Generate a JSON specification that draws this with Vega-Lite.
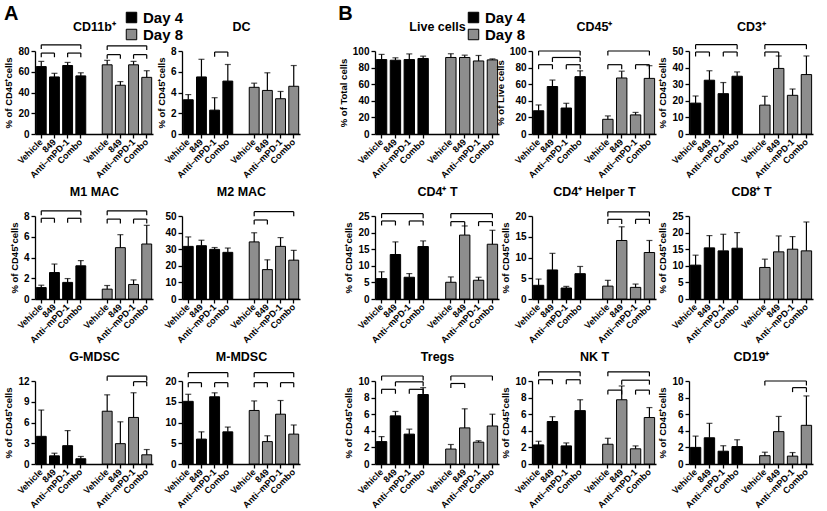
{
"$schema":"https://vega.github.io/schema/vega-lite/v6.json",
"padding":{"left":3,"top":4,"right":3,"bottom":0},
"data":{"values":[
{"p":"CD11b","d":"Day 4","k":"4|Vehicle","v":65,"hi":70},{"p":"CD11b","d":"Day 4","k":"4|849","v":55,"hi":58.5},{"p":"CD11b","d":"Day 4","k":"4|Anti–mPD-1","v":66,"hi":69},{"p":"CD11b","d":"Day 4","k":"4|Combo","v":56,"hi":59},
{"p":"CD11b","d":"Day 8","k":"8|Vehicle","v":66.7,"hi":71},{"p":"CD11b","d":"Day 8","k":"8|849","v":47,"hi":50.5},{"p":"CD11b","d":"Day 8","k":"8|Anti–mPD-1","v":66.7,"hi":70},{"p":"CD11b","d":"Day 8","k":"8|Combo","v":54.6,"hi":61},
{"p":"DC","d":"Day 4","k":"4|Vehicle","v":3.3,"hi":3.8},{"p":"DC","d":"Day 4","k":"4|849","v":5.5,"hi":7.2},{"p":"DC","d":"Day 4","k":"4|Anti–mPD-1","v":2.3,"hi":3.5},{"p":"DC","d":"Day 4","k":"4|Combo","v":5.1,"hi":6.7},
{"p":"DC","d":"Day 8","k":"8|Vehicle","v":4.5,"hi":4.9},{"p":"DC","d":"Day 8","k":"8|849","v":4.2,"hi":5.9},{"p":"DC","d":"Day 8","k":"8|Anti–mPD-1","v":3.4,"hi":4.1},{"p":"DC","d":"Day 8","k":"8|Combo","v":4.6,"hi":6.6},
{"p":"M1","d":"Day 4","k":"4|Vehicle","v":1.1,"hi":1.33},{"p":"M1","d":"Day 4","k":"4|849","v":2.55,"hi":3.37},{"p":"M1","d":"Day 4","k":"4|Anti–mPD-1","v":1.6,"hi":1.97},{"p":"M1","d":"Day 4","k":"4|Combo","v":3.2,"hi":3.7},
{"p":"M1","d":"Day 8","k":"8|Vehicle","v":0.95,"hi":1.3},{"p":"M1","d":"Day 8","k":"8|849","v":4.95,"hi":6.2},{"p":"M1","d":"Day 8","k":"8|Anti–mPD-1","v":1.4,"hi":1.84},{"p":"M1","d":"Day 8","k":"8|Combo","v":5.3,"hi":7.1},
{"p":"M2","d":"Day 4","k":"4|Vehicle","v":31.7,"hi":37.4},{"p":"M2","d":"Day 4","k":"4|849","v":32.1,"hi":35.4},{"p":"M2","d":"Day 4","k":"4|Anti–mPD-1","v":29.9,"hi":31},{"p":"M2","d":"Day 4","k":"4|combo","v":28.1,"hi":30.7},
{"p":"M2","d":"Day 8","k":"8|Vehicle","v":34.4,"hi":39.9},{"p":"M2","d":"Day 8","k":"8|849","v":17.7,"hi":23.6},{"p":"M2","d":"Day 8","k":"8|Anti–mPD-1","v":31.7,"hi":37},{"p":"M2","d":"Day 8","k":"8|Combo","v":23.4,"hi":29.3},
{"p":"GM","d":"Day 4","k":"4|Vehicle","v":4.0,"hi":7.8},{"p":"GM","d":"Day 4","k":"4|849","v":1.18,"hi":1.56},{"p":"GM","d":"Day 4","k":"4|Anti–mPD-1","v":2.65,"hi":4.83},{"p":"GM","d":"Day 4","k":"4|Combo","v":0.76,"hi":1.09},
{"p":"GM","d":"Day 8","k":"8|Vehicle","v":7.63,"hi":10},{"p":"GM","d":"Day 8","k":"8|849","v":2.94,"hi":6.1},{"p":"GM","d":"Day 8","k":"8|Anti–mPD-1","v":6.73,"hi":10.3},{"p":"GM","d":"Day 8","k":"8|Combo","v":1.33,"hi":2.09},
{"p":"MM","d":"Day 4","k":"4|Vehicle","v":15.1,"hi":16.8},{"p":"MM","d":"Day 4","k":"4|849","v":6.0,"hi":7.75},{"p":"MM","d":"Day 4","k":"4|Anti–mPD-1","v":16.2,"hi":17.15},{"p":"MM","d":"Day 4","k":"4|Combo","v":7.75,"hi":8.9},
{"p":"MM","d":"Day 8","k":"8|Vehicle","v":12.9,"hi":15.2},{"p":"MM","d":"Day 8","k":"8|849","v":5.4,"hi":6.8},{"p":"MM","d":"Day 8","k":"8|Anti–mPD-1","v":12.0,"hi":15.3},{"p":"MM","d":"Day 8","k":"8|Combo","v":7.2,"hi":9.4},
{"p":"Live","d":"Day 4","k":"4|Vehicle","v":89.7,"hi":95.9},{"p":"Live","d":"Day 4","k":"4|849","v":88.9,"hi":91.8},{"p":"Live","d":"Day 4","k":"4|Anti–mPD-1","v":89.7,"hi":96.5},{"p":"Live","d":"Day 4","k":"4|Combo","v":91,"hi":93.8},
{"p":"Live","d":"Day 8","k":"8|Vehicle","v":92.2,"hi":96.7},{"p":"Live","d":"Day 8","k":"8|849","v":92.2,"hi":95},{"p":"Live","d":"Day 8","k":"8|Anti–mPD-1","v":88,"hi":94.6},{"p":"Live","d":"Day 8","k":"8|Combo","v":89.3,"hi":90.5},
{"p":"CD45","d":"Day 4","k":"4|Vehicle","v":28,"hi":35},{"p":"CD45","d":"Day 4","k":"4|849","v":57.2,"hi":65},{"p":"CD45","d":"Day 4","k":"4|Anti–mPD-1","v":31.3,"hi":37},{"p":"CD45","d":"Day 4","k":"4|Combo","v":69.1,"hi":76.1},
{"p":"CD45","d":"Day 8","k":"8|Vehicle","v":17.7,"hi":21.8},{"p":"CD45","d":"Day 8","k":"8|849","v":67.5,"hi":75.7},{"p":"CD45","d":"Day 8","k":"8|Anti–mPD-1","v":23,"hi":26},{"p":"CD45","d":"Day 8","k":"8|Combo","v":67,"hi":82.3},
{"p":"CD3","d":"Day 4","k":"4|Vehicle","v":18.6,"hi":22.9},{"p":"CD3","d":"Day 4","k":"4|849","v":32.4,"hi":38.1},{"p":"CD3","d":"Day 4","k":"4|Anti–mPD-1","v":24.3,"hi":31},{"p":"CD3","d":"Day 4","k":"4|Combo","v":34.8,"hi":37.4},
{"p":"CD3","d":"Day 8","k":"8|Vehicle","v":17.4,"hi":22.7},{"p":"CD3","d":"Day 8","k":"8|849","v":39.5,"hi":47},{"p":"CD3","d":"Day 8","k":"8|Anti–mPD-1","v":23.3,"hi":27.1},{"p":"CD3","d":"Day 8","k":"8|Combo","v":35.8,"hi":47},
{"p":"CD4","d":"Day 4","k":"4|Vehicle","v":6.15,"hi":8.2},{"p":"CD4","d":"Day 4","k":"4|849","v":13.4,"hi":17.2},{"p":"CD4","d":"Day 4","k":"4|Anti–mPD-1","v":6.55,"hi":7.66},{"p":"CD4","d":"Day 4","k":"4|Combo","v":15.8,"hi":17.5},
{"p":"CD4","d":"Day 8","k":"8|Vehicle","v":5.04,"hi":6.65},{"p":"CD4","d":"Day 8","k":"8|849","v":19.25,"hi":22},{"p":"CD4","d":"Day 8","k":"8|Anti–mPD-1","v":5.65,"hi":6.55},{"p":"CD4","d":"Day 8","k":"8|Combo","v":16.5,"hi":20.7},
{"p":"CD4H","d":"Day 4","k":"4|Vehicle","v":3.3,"hi":4.8},{"p":"CD4H","d":"Day 4","k":"4|849","v":7.0,"hi":11},{"p":"CD4H","d":"Day 4","k":"4|Anti–mPD-1","v":2.65,"hi":3.04},{"p":"CD4H","d":"Day 4","k":"4|Combo","v":6.1,"hi":7.84},
{"p":"CD4H","d":"Day 8","k":"8|Vehicle","v":3.1,"hi":4.5},{"p":"CD4H","d":"Day 8","k":"8|849","v":14.1,"hi":17.4},{"p":"CD4H","d":"Day 8","k":"8|Anti–mPD-1","v":2.8,"hi":3.6},{"p":"CD4H","d":"Day 8","k":"8|Combo","v":11.2,"hi":14.1},
{"p":"CD8","d":"Day 4","k":"4|Vehicle","v":10.2,"hi":13.2},{"p":"CD8","d":"Day 4","k":"4|849","v":15.4,"hi":19.1},{"p":"CD8","d":"Day 4","k":"4|Anti–mPD-1","v":14.5,"hi":19.5},{"p":"CD8","d":"Day 4","k":"4|Combo","v":15.3,"hi":20},
{"p":"CD8","d":"Day 8","k":"8|Vehicle","v":9.5,"hi":12},{"p":"CD8","d":"Day 8","k":"8|849","v":14.2,"hi":19},{"p":"CD8","d":"Day 8","k":"8|Anti–mPD-1","v":15,"hi":18.8},{"p":"CD8","d":"Day 8","k":"8|Combo","v":14.5,"hi":23.2},
{"p":"Treg","d":"Day 4","k":"4|Vehicle","v":2.7,"hi":3.3},{"p":"Treg","d":"Day 4","k":"4|849","v":5.8,"hi":6.33},{"p":"Treg","d":"Day 4","k":"4|Anti–mPD-1","v":3.6,"hi":4.2},{"p":"Treg","d":"Day 4","k":"4|Combo","v":8.37,"hi":9.2},
{"p":"Treg","d":"Day 8","k":"8|Vehicle","v":1.8,"hi":2.35},{"p":"Treg","d":"Day 8","k":"8|849","v":4.35,"hi":6.65},{"p":"Treg","d":"Day 8","k":"8|Anti–mPD-1","v":2.63,"hi":2.8},{"p":"Treg","d":"Day 8","k":"8|Combo","v":4.58,"hi":6.0},
{"p":"NKT","d":"Day 4","k":"4|Vehicle","v":2.3,"hi":2.74},{"p":"NKT","d":"Day 4","k":"4|849","v":5.12,"hi":5.7},{"p":"NKT","d":"Day 4","k":"4|Anti–mPD-1","v":2.18,"hi":2.54},{"p":"NKT","d":"Day 4","k":"4|Combo","v":6.43,"hi":7.74},
{"p":"NKT","d":"Day 8","k":"8|Vehicle","v":2.38,"hi":3.1},{"p":"NKT","d":"Day 8","k":"8|849","v":7.74,"hi":9.4},{"p":"NKT","d":"Day 8","k":"8|Anti–mPD-1","v":1.83,"hi":2.18},{"p":"NKT","d":"Day 8","k":"8|Combo","v":5.6,"hi":6.8},
{"p":"CD19","d":"Day 4","k":"4|Vehicle","v":2.0,"hi":3.36},{"p":"CD19","d":"Day 4","k":"4|849","v":3.16,"hi":4.9},{"p":"CD19","d":"Day 4","k":"4|Anti–mPD-1","v":1.54,"hi":2.2},{"p":"CD19","d":"Day 4","k":"4|Combo","v":2.1,"hi":2.92},
{"p":"CD19","d":"Day 8","k":"8|Vehicle","v":1.0,"hi":1.42},{"p":"CD19","d":"Day 8","k":"8|849","v":3.9,"hi":5.73},{"p":"CD19","d":"Day 8","k":"8|Anti–mPD-1","v":0.95,"hi":1.38},{"p":"CD19","d":"Day 8","k":"8|Combo","v":4.66,"hi":8.2},
{"p":"CD11b","id":1,"a":"4|Vehicle","b":"4|Combo","by":86,"by0":82},{"p":"CD11b","id":2,"a":"4|Vehicle","b":"4|849","by":78,"by0":74},{"p":"CD11b","id":3,"a":"4|Anti–mPD-1","b":"4|Combo","by":78,"by0":74},
{"p":"CD11b","id":4,"a":"8|Vehicle","b":"8|Combo","by":85,"by0":81},{"p":"CD11b","id":5,"a":"8|Vehicle","b":"8|849","by":76.5,"by0":72.5},{"p":"CD11b","id":6,"a":"8|Anti–mPD-1","b":"8|Combo","by":76.5,"by0":72.5},
{"p":"DC","id":7,"a":"4|Anti–mPD-1","b":"4|Combo","by":7.9,"by0":7.45},
{"p":"M1","id":8,"a":"4|Vehicle","b":"4|Combo","by":8.5,"by0":8.07},{"p":"M1","id":9,"a":"4|Vehicle","b":"4|849","by":7.78,"by0":7.35},{"p":"M1","id":10,"a":"4|Anti–mPD-1","b":"4|Combo","by":7.78,"by0":7.35},
{"p":"M1","id":11,"a":"8|Vehicle","b":"8|Combo","by":8.5,"by0":8.07},{"p":"M1","id":12,"a":"8|Vehicle","b":"8|849","by":7.7,"by0":7.27},{"p":"M1","id":13,"a":"8|Anti–mPD-1","b":"8|Combo","by":7.7,"by0":7.27},
{"p":"M2","id":14,"a":"8|Vehicle","b":"8|Combo","by":52.6,"by0":49.9},{"p":"M2","id":15,"a":"8|Vehicle","b":"8|849","by":47.6,"by0":44.9},
{"p":"GM","id":16,"a":"8|Vehicle","b":"8|Combo","by":12.7,"by0":12.05},{"p":"GM","id":17,"a":"8|Anti–mPD-1","b":"8|Combo","by":11.9,"by0":11.25},
{"p":"MM","id":18,"a":"4|Vehicle","b":"4|Combo","by":22,"by0":20.9},{"p":"MM","id":19,"a":"4|Vehicle","b":"4|849","by":19.6,"by0":18.5},{"p":"MM","id":20,"a":"4|Anti–mPD-1","b":"4|Combo","by":19.6,"by0":18.5},
{"p":"MM","id":21,"a":"8|Vehicle","b":"8|Combo","by":22,"by0":20.9},{"p":"MM","id":22,"a":"8|Vehicle","b":"8|849","by":19.6,"by0":18.5},{"p":"MM","id":23,"a":"8|Anti–mPD-1","b":"8|Combo","by":19.6,"by0":18.5},
{"p":"CD45","id":24,"a":"4|Vehicle","b":"4|Combo","by":100,"by0":94.6},{"p":"CD45","id":25,"a":"4|849","b":"4|Combo","by":92.2,"by0":86.8},{"p":"CD45","id":26,"a":"4|Vehicle","b":"4|849","by":83.5,"by0":78.1},{"p":"CD45","id":27,"a":"4|Anti–mPD-1","b":"4|Combo","by":83.5,"by0":78.1},
{"p":"CD45","id":28,"a":"8|Vehicle","b":"8|Combo","by":100,"by0":94.6},{"p":"CD45","id":29,"a":"8|Vehicle","b":"8|849","by":83.5,"by0":78.1},{"p":"CD45","id":30,"a":"8|Anti–mPD-1","b":"8|Combo","by":83.5,"by0":78.1},
{"p":"CD3","id":31,"a":"4|Vehicle","b":"4|Combo","by":53.8,"by0":51.1},{"p":"CD3","id":32,"a":"4|Vehicle","b":"4|849","by":49.4,"by0":46.7},{"p":"CD3","id":33,"a":"4|Anti–mPD-1","b":"4|Combo","by":49.4,"by0":46.7},
{"p":"CD3","id":34,"a":"8|Vehicle","b":"8|Combo","by":53.8,"by0":51.1},{"p":"CD3","id":35,"a":"8|Vehicle","b":"8|849","by":49.4,"by0":46.7},
{"p":"CD4","id":36,"a":"4|Vehicle","b":"4|Combo","by":25.7,"by0":24.35},{"p":"CD4","id":37,"a":"4|Vehicle","b":"4|849","by":23.5,"by0":22.15},{"p":"CD4","id":38,"a":"4|Anti–mPD-1","b":"4|Combo","by":23.5,"by0":22.15},
{"p":"CD4","id":39,"a":"8|Vehicle","b":"8|Combo","by":25.7,"by0":24.35},{"p":"CD4","id":40,"a":"8|Vehicle","b":"8|849","by":23.3,"by0":21.95},{"p":"CD4","id":41,"a":"8|Anti–mPD-1","b":"8|Combo","by":23.3,"by0":21.95},
{"p":"CD4H","id":42,"a":"8|Vehicle","b":"8|Combo","by":21,"by0":19.9},{"p":"CD4H","id":43,"a":"8|Vehicle","b":"8|849","by":19.2,"by0":18.1},{"p":"CD4H","id":44,"a":"8|Anti–mPD-1","b":"8|Combo","by":19.2,"by0":18.1},
{"p":"Treg","id":45,"a":"4|Vehicle","b":"4|Combo","by":10.6,"by0":10.06},{"p":"Treg","id":46,"a":"4|849","b":"4|Combo","by":9.9,"by0":9.36},{"p":"Treg","id":47,"a":"4|Vehicle","b":"4|849","by":9.0,"by0":8.46},{"p":"Treg","id":48,"a":"4|Anti–mPD-1","b":"4|Combo","by":9.0,"by0":8.46},
{"p":"Treg","id":49,"a":"8|Vehicle","b":"8|Combo","by":10.6,"by0":10.06},{"p":"Treg","id":50,"a":"8|Vehicle","b":"8|849","by":9.7,"by0":9.16},
{"p":"NKT","id":51,"a":"4|Vehicle","b":"4|Combo","by":11.1,"by0":10.56},{"p":"NKT","id":52,"a":"4|Vehicle","b":"4|849","by":10.15,"by0":9.6},{"p":"NKT","id":53,"a":"4|Anti–mPD-1","b":"4|Combo","by":10.15,"by0":9.6},
{"p":"NKT","id":54,"a":"8|Vehicle","b":"8|Combo","by":11.1,"by0":10.56},{"p":"NKT","id":55,"a":"8|849","b":"8|Combo","by":10.1,"by0":9.56},{"p":"NKT","id":56,"a":"8|Vehicle","b":"8|849","by":8.9,"by0":8.36},{"p":"NKT","id":57,"a":"8|Anti–mPD-1","b":"8|Combo","by":8.9,"by0":8.36},
{"p":"CD19","id":58,"a":"8|Vehicle","b":"8|Combo","by":10.0,"by0":9.46},{"p":"CD19","id":59,"a":"8|Anti–mPD-1","b":"8|Combo","by":9.2,"by0":8.66}
]},
"hconcat":[
{"title":{"text":"A","anchor":"start","frame":"bounds","fontSize":20,"offset":-30,"baseline":"alphabetic"},
 "columns":2,"bounds":"flush","spacing":{"row":82,"column":29},
 "concat":[
 {"width":118,"height":83,"transform":[{"filter":"datum.p=='CD11b'"}],"resolve":{"axis":{"x":"independent"}},
  "layer":[
   {"transform":[{"filter":"isValid(datum.v)"}],"mark":{"type":"bar","stroke":"black","strokeWidth":1},"encoding":{"x":{"field":"k","type":"nominal","sort":null,"title":null,"scale":{"domain":["4|Vehicle","4|849","4|Anti–mPD-1","4|Combo","gap","8|Vehicle","8|849","8|Anti–mPD-1","8|Combo"],"paddingInner":0.25,"paddingOuter":0.1},"axis":{"labelAngle":-45,"labelAlign":"right","labelBaseline":"middle","labelFontSize":9,"labelExpr":"datum.value == 'gap' ? '' : substring(datum.value, 2)","tickOpacity":{"condition":{"test":"datum.value == 'gap'","value":0},"value":1}}},"y":{"field":"v","type":"quantitative","title":"% of CD45⁺cells","scale":{"domain":[0,80],"nice":false},"axis":{"values":[0,20,40,60,80]}},"color":{"field":"d","type":"nominal","scale":{"domain":["Day 4","Day 8"],"range":["#000000","#8d8d8d"]},"legend":{"orient":"none","legendX":89,"legendY":-41,"title":null,"symbolType":"square","symbolSize":110,"symbolStrokeColor":"black","symbolStrokeWidth":1,"labelFontSize":15,"labelFontWeight":"bold","labelColor":"black","rowPadding":1,"labelOffset":4,"padding":0}}}},
   {"transform":[{"filter":"isValid(datum.v)"}],"mark":{"type":"rule","color":"black","strokeWidth":1.2},"encoding":{"x":{"field":"k","type":"nominal","sort":null,"axis":{"orient":"top","title":"CD11b⁺","labels":false,"ticks":false,"domain":false,"titleFontSize":12.5,"titlePadding":18}},"y":{"field":"v","type":"quantitative","title":"% of CD45⁺cells","axis":{"values":[0,20,40,60,80]}},"y2":{"field":"hi"}}},
   {"transform":[{"filter":"isValid(datum.v)"}],"mark":{"type":"tick","color":"black","size":6,"thickness":1.2},"encoding":{"x":{"field":"k","type":"nominal","sort":null,"axis":null},"y":{"field":"hi","type":"quantitative","title":"% of CD45⁺cells","axis":{"values":[0,20,40,60,80]}}}},
   {"transform":[{"filter":"isValid(datum.by)"},{"fold":["a","b"],"as":["side","k"]}],"mark":{"type":"line","color":"black","strokeWidth":1.2},"encoding":{"x":{"field":"k","type":"nominal","sort":null,"axis":null},"y":{"field":"by","type":"quantitative","title":"% of CD45⁺cells","axis":{"values":[0,20,40,60,80]}},"detail":{"field":"id","type":"nominal"}}},
   {"transform":[{"filter":"isValid(datum.by)"},{"fold":["a","b"],"as":["side","k"]}],"mark":{"type":"rule","color":"black","strokeWidth":1.2},"encoding":{"x":{"field":"k","type":"nominal","sort":null,"axis":null},"y":{"field":"by","type":"quantitative","title":"% of CD45⁺cells","axis":{"values":[0,20,40,60,80]}},"y2":{"field":"by0"}}}
  ]},
 {"width":118,"height":83,"transform":[{"filter":"datum.p=='DC'"}],"resolve":{"axis":{"x":"independent"}},
  "layer":[
   {"transform":[{"filter":"isValid(datum.v)"}],"mark":{"type":"bar","stroke":"black","strokeWidth":1},"encoding":{"x":{"field":"k","type":"nominal","sort":null,"title":null,"scale":{"domain":["4|Vehicle","4|849","4|Anti–mPD-1","4|Combo","gap","8|Vehicle","8|849","8|Anti–mPD-1","8|Combo"],"paddingInner":0.25,"paddingOuter":0.1},"axis":{"labelAngle":-45,"labelAlign":"right","labelBaseline":"middle","labelFontSize":9,"labelExpr":"datum.value == 'gap' ? '' : substring(datum.value, 2)","tickOpacity":{"condition":{"test":"datum.value == 'gap'","value":0},"value":1}}},"y":{"field":"v","type":"quantitative","title":"% of CD45⁺cells","scale":{"domain":[0,8],"nice":false},"axis":{"values":[0,2,4,6,8]}},"color":{"field":"d","type":"nominal","scale":{"domain":["Day 4","Day 8"],"range":["#000000","#8d8d8d"]},"legend":null}}},
   {"transform":[{"filter":"isValid(datum.v)"}],"mark":{"type":"rule","color":"black","strokeWidth":1.2},"encoding":{"x":{"field":"k","type":"nominal","sort":null,"axis":{"orient":"top","title":"DC","labels":false,"ticks":false,"domain":false,"titleFontSize":12.5,"titlePadding":18}},"y":{"field":"v","type":"quantitative","title":"% of CD45⁺cells","axis":{"values":[0,2,4,6,8]}},"y2":{"field":"hi"}}},
   {"transform":[{"filter":"isValid(datum.v)"}],"mark":{"type":"tick","color":"black","size":6,"thickness":1.2},"encoding":{"x":{"field":"k","type":"nominal","sort":null,"axis":null},"y":{"field":"hi","type":"quantitative","title":"% of CD45⁺cells","axis":{"values":[0,2,4,6,8]}}}},
   {"transform":[{"filter":"isValid(datum.by)"},{"fold":["a","b"],"as":["side","k"]}],"mark":{"type":"line","color":"black","strokeWidth":1.2},"encoding":{"x":{"field":"k","type":"nominal","sort":null,"axis":null},"y":{"field":"by","type":"quantitative","title":"% of CD45⁺cells","axis":{"values":[0,2,4,6,8]}},"detail":{"field":"id","type":"nominal"}}},
   {"transform":[{"filter":"isValid(datum.by)"},{"fold":["a","b"],"as":["side","k"]}],"mark":{"type":"rule","color":"black","strokeWidth":1.2},"encoding":{"x":{"field":"k","type":"nominal","sort":null,"axis":null},"y":{"field":"by","type":"quantitative","title":"% of CD45⁺cells","axis":{"values":[0,2,4,6,8]}},"y2":{"field":"by0"}}}
  ]},
 {"width":118,"height":83,"transform":[{"filter":"datum.p=='M1'"}],"resolve":{"axis":{"x":"independent"}},
  "layer":[
   {"transform":[{"filter":"isValid(datum.v)"}],"mark":{"type":"bar","stroke":"black","strokeWidth":1},"encoding":{"x":{"field":"k","type":"nominal","sort":null,"title":null,"scale":{"domain":["4|Vehicle","4|849","4|Anti–mPD-1","4|Combo","gap","8|Vehicle","8|849","8|Anti–mPD-1","8|Combo"],"paddingInner":0.25,"paddingOuter":0.1},"axis":{"labelAngle":-45,"labelAlign":"right","labelBaseline":"middle","labelFontSize":9,"labelExpr":"datum.value == 'gap' ? '' : substring(datum.value, 2)","tickOpacity":{"condition":{"test":"datum.value == 'gap'","value":0},"value":1}}},"y":{"field":"v","type":"quantitative","title":"% of CD45⁺cells","scale":{"domain":[0,8],"nice":false},"axis":{"values":[0,2,4,6,8]}},"color":{"field":"d","type":"nominal","scale":{"domain":["Day 4","Day 8"],"range":["#000000","#8d8d8d"]},"legend":null}}},
   {"transform":[{"filter":"isValid(datum.v)"}],"mark":{"type":"rule","color":"black","strokeWidth":1.2},"encoding":{"x":{"field":"k","type":"nominal","sort":null,"axis":{"orient":"top","title":"M1 MAC","labels":false,"ticks":false,"domain":false,"titleFontSize":12.5,"titlePadding":18}},"y":{"field":"v","type":"quantitative","title":"% of CD45⁺cells","axis":{"values":[0,2,4,6,8]}},"y2":{"field":"hi"}}},
   {"transform":[{"filter":"isValid(datum.v)"}],"mark":{"type":"tick","color":"black","size":6,"thickness":1.2},"encoding":{"x":{"field":"k","type":"nominal","sort":null,"axis":null},"y":{"field":"hi","type":"quantitative","title":"% of CD45⁺cells","axis":{"values":[0,2,4,6,8]}}}},
   {"transform":[{"filter":"isValid(datum.by)"},{"fold":["a","b"],"as":["side","k"]}],"mark":{"type":"line","color":"black","strokeWidth":1.2},"encoding":{"x":{"field":"k","type":"nominal","sort":null,"axis":null},"y":{"field":"by","type":"quantitative","title":"% of CD45⁺cells","axis":{"values":[0,2,4,6,8]}},"detail":{"field":"id","type":"nominal"}}},
   {"transform":[{"filter":"isValid(datum.by)"},{"fold":["a","b"],"as":["side","k"]}],"mark":{"type":"rule","color":"black","strokeWidth":1.2},"encoding":{"x":{"field":"k","type":"nominal","sort":null,"axis":null},"y":{"field":"by","type":"quantitative","title":"% of CD45⁺cells","axis":{"values":[0,2,4,6,8]}},"y2":{"field":"by0"}}}
  ]},
 {"width":118,"height":83,"transform":[{"filter":"datum.p=='M2'"}],"resolve":{"axis":{"x":"independent"}},
  "layer":[
   {"transform":[{"filter":"isValid(datum.v)"}],"mark":{"type":"bar","stroke":"black","strokeWidth":1},"encoding":{"x":{"field":"k","type":"nominal","sort":null,"title":null,"scale":{"domain":["4|Vehicle","4|849","4|Anti–mPD-1","4|combo","gap","8|Vehicle","8|849","8|Anti–mPD-1","8|Combo"],"paddingInner":0.25,"paddingOuter":0.1},"axis":{"labelAngle":-45,"labelAlign":"right","labelBaseline":"middle","labelFontSize":9,"labelExpr":"datum.value == 'gap' ? '' : substring(datum.value, 2)","tickOpacity":{"condition":{"test":"datum.value == 'gap'","value":0},"value":1}}},"y":{"field":"v","type":"quantitative","title":null,"scale":{"domain":[0,50],"nice":false},"axis":{"values":[0,10,20,30,40,50]}},"color":{"field":"d","type":"nominal","scale":{"domain":["Day 4","Day 8"],"range":["#000000","#8d8d8d"]},"legend":null}}},
   {"transform":[{"filter":"isValid(datum.v)"}],"mark":{"type":"rule","color":"black","strokeWidth":1.2},"encoding":{"x":{"field":"k","type":"nominal","sort":null,"axis":{"orient":"top","title":"M2 MAC","labels":false,"ticks":false,"domain":false,"titleFontSize":12.5,"titlePadding":18}},"y":{"field":"v","type":"quantitative","title":null,"axis":{"values":[0,10,20,30,40,50]}},"y2":{"field":"hi"}}},
   {"transform":[{"filter":"isValid(datum.v)"}],"mark":{"type":"tick","color":"black","size":6,"thickness":1.2},"encoding":{"x":{"field":"k","type":"nominal","sort":null,"axis":null},"y":{"field":"hi","type":"quantitative","title":null,"axis":{"values":[0,10,20,30,40,50]}}}},
   {"transform":[{"filter":"isValid(datum.by)"},{"fold":["a","b"],"as":["side","k"]}],"mark":{"type":"line","color":"black","strokeWidth":1.2},"encoding":{"x":{"field":"k","type":"nominal","sort":null,"axis":null},"y":{"field":"by","type":"quantitative","title":null,"axis":{"values":[0,10,20,30,40,50]}},"detail":{"field":"id","type":"nominal"}}},
   {"transform":[{"filter":"isValid(datum.by)"},{"fold":["a","b"],"as":["side","k"]}],"mark":{"type":"rule","color":"black","strokeWidth":1.2},"encoding":{"x":{"field":"k","type":"nominal","sort":null,"axis":null},"y":{"field":"by","type":"quantitative","title":null,"axis":{"values":[0,10,20,30,40,50]}},"y2":{"field":"by0"}}}
  ]},
 {"width":118,"height":83,"transform":[{"filter":"datum.p=='GM'"}],"resolve":{"axis":{"x":"independent"}},
  "layer":[
   {"transform":[{"filter":"isValid(datum.v)"}],"mark":{"type":"bar","stroke":"black","strokeWidth":1},"encoding":{"x":{"field":"k","type":"nominal","sort":null,"title":null,"scale":{"domain":["4|Vehicle","4|849","4|Anti–mPD-1","4|Combo","gap","8|Vehicle","8|849","8|Anti–mPD-1","8|Combo"],"paddingInner":0.25,"paddingOuter":0.1},"axis":{"labelAngle":-45,"labelAlign":"right","labelBaseline":"middle","labelFontSize":9,"labelExpr":"datum.value == 'gap' ? '' : substring(datum.value, 2)","tickOpacity":{"condition":{"test":"datum.value == 'gap'","value":0},"value":1}}},"y":{"field":"v","type":"quantitative","title":"% of CD45⁺cells","scale":{"domain":[0,12],"nice":false},"axis":{"values":[0,3,6,9,12]}},"color":{"field":"d","type":"nominal","scale":{"domain":["Day 4","Day 8"],"range":["#000000","#8d8d8d"]},"legend":null}}},
   {"transform":[{"filter":"isValid(datum.v)"}],"mark":{"type":"rule","color":"black","strokeWidth":1.2},"encoding":{"x":{"field":"k","type":"nominal","sort":null,"axis":{"orient":"top","title":"G-MDSC","labels":false,"ticks":false,"domain":false,"titleFontSize":12.5,"titlePadding":18}},"y":{"field":"v","type":"quantitative","title":"% of CD45⁺cells","axis":{"values":[0,3,6,9,12]}},"y2":{"field":"hi"}}},
   {"transform":[{"filter":"isValid(datum.v)"}],"mark":{"type":"tick","color":"black","size":6,"thickness":1.2},"encoding":{"x":{"field":"k","type":"nominal","sort":null,"axis":null},"y":{"field":"hi","type":"quantitative","title":"% of CD45⁺cells","axis":{"values":[0,3,6,9,12]}}}},
   {"transform":[{"filter":"isValid(datum.by)"},{"fold":["a","b"],"as":["side","k"]}],"mark":{"type":"line","color":"black","strokeWidth":1.2},"encoding":{"x":{"field":"k","type":"nominal","sort":null,"axis":null},"y":{"field":"by","type":"quantitative","title":"% of CD45⁺cells","axis":{"values":[0,3,6,9,12]}},"detail":{"field":"id","type":"nominal"}}},
   {"transform":[{"filter":"isValid(datum.by)"},{"fold":["a","b"],"as":["side","k"]}],"mark":{"type":"rule","color":"black","strokeWidth":1.2},"encoding":{"x":{"field":"k","type":"nominal","sort":null,"axis":null},"y":{"field":"by","type":"quantitative","title":"% of CD45⁺cells","axis":{"values":[0,3,6,9,12]}},"y2":{"field":"by0"}}}
  ]},
 {"width":118,"height":83,"transform":[{"filter":"datum.p=='MM'"}],"resolve":{"axis":{"x":"independent"}},
  "layer":[
   {"transform":[{"filter":"isValid(datum.v)"}],"mark":{"type":"bar","stroke":"black","strokeWidth":1},"encoding":{"x":{"field":"k","type":"nominal","sort":null,"title":null,"scale":{"domain":["4|Vehicle","4|849","4|Anti–mPD-1","4|Combo","gap","8|Vehicle","8|849","8|Anti–mPD-1","8|Combo"],"paddingInner":0.25,"paddingOuter":0.1},"axis":{"labelAngle":-45,"labelAlign":"right","labelBaseline":"middle","labelFontSize":9,"labelExpr":"datum.value == 'gap' ? '' : substring(datum.value, 2)","tickOpacity":{"condition":{"test":"datum.value == 'gap'","value":0},"value":1}}},"y":{"field":"v","type":"quantitative","title":null,"scale":{"domain":[0,20],"nice":false},"axis":{"values":[0,5,10,15,20]}},"color":{"field":"d","type":"nominal","scale":{"domain":["Day 4","Day 8"],"range":["#000000","#8d8d8d"]},"legend":null}}},
   {"transform":[{"filter":"isValid(datum.v)"}],"mark":{"type":"rule","color":"black","strokeWidth":1.2},"encoding":{"x":{"field":"k","type":"nominal","sort":null,"axis":{"orient":"top","title":"M-MDSC","labels":false,"ticks":false,"domain":false,"titleFontSize":12.5,"titlePadding":18}},"y":{"field":"v","type":"quantitative","title":null,"axis":{"values":[0,5,10,15,20]}},"y2":{"field":"hi"}}},
   {"transform":[{"filter":"isValid(datum.v)"}],"mark":{"type":"tick","color":"black","size":6,"thickness":1.2},"encoding":{"x":{"field":"k","type":"nominal","sort":null,"axis":null},"y":{"field":"hi","type":"quantitative","title":null,"axis":{"values":[0,5,10,15,20]}}}},
   {"transform":[{"filter":"isValid(datum.by)"},{"fold":["a","b"],"as":["side","k"]}],"mark":{"type":"line","color":"black","strokeWidth":1.2},"encoding":{"x":{"field":"k","type":"nominal","sort":null,"axis":null},"y":{"field":"by","type":"quantitative","title":null,"axis":{"values":[0,5,10,15,20]}},"detail":{"field":"id","type":"nominal"}}},
   {"transform":[{"filter":"isValid(datum.by)"},{"fold":["a","b"],"as":["side","k"]}],"mark":{"type":"rule","color":"black","strokeWidth":1.2},"encoding":{"x":{"field":"k","type":"nominal","sort":null,"axis":null},"y":{"field":"by","type":"quantitative","title":null,"axis":{"values":[0,5,10,15,20]}},"y2":{"field":"by0"}}}
  ]}
 ]},
{"title":{"text":"B","anchor":"start","frame":"bounds","fontSize":20,"offset":-30,"baseline":"alphabetic"},
 "columns":3,"bounds":"flush","spacing":{"row":82,"column":33},
 "concat":[
 {"width":124,"height":83,"transform":[{"filter":"datum.p=='Live'"}],"resolve":{"axis":{"x":"independent"}},
  "layer":[
   {"transform":[{"filter":"isValid(datum.v)"}],"mark":{"type":"bar","stroke":"black","strokeWidth":1},"encoding":{"x":{"field":"k","type":"nominal","sort":null,"title":null,"scale":{"domain":["4|Vehicle","4|849","4|Anti–mPD-1","4|Combo","gap","8|Vehicle","8|849","8|Anti–mPD-1","8|Combo"],"paddingInner":0.25,"paddingOuter":0.1},"axis":{"labelAngle":-45,"labelAlign":"right","labelBaseline":"middle","labelFontSize":9,"labelExpr":"datum.value == 'gap' ? '' : substring(datum.value, 2)","tickOpacity":{"condition":{"test":"datum.value == 'gap'","value":0},"value":1}}},"y":{"field":"v","type":"quantitative","title":"% of Total cells","scale":{"domain":[0,100],"nice":false},"axis":{"values":[0,20,40,60,80,100]}},"color":{"field":"d","type":"nominal","scale":{"domain":["Day 4","Day 8"],"range":["#000000","#8d8d8d"]},"legend":{"orient":"none","legendX":91,"legendY":-41,"title":null,"symbolType":"square","symbolSize":110,"symbolStrokeColor":"black","symbolStrokeWidth":1,"labelFontSize":15,"labelFontWeight":"bold","labelColor":"black","rowPadding":1,"labelOffset":4,"padding":0}}}},
   {"transform":[{"filter":"isValid(datum.v)"}],"mark":{"type":"rule","color":"black","strokeWidth":1.2},"encoding":{"x":{"field":"k","type":"nominal","sort":null,"axis":{"orient":"top","title":"Live cells","labels":false,"ticks":false,"domain":false,"titleFontSize":12.5,"titlePadding":18}},"y":{"field":"v","type":"quantitative","title":"% of Total cells","axis":{"values":[0,20,40,60,80,100]}},"y2":{"field":"hi"}}},
   {"transform":[{"filter":"isValid(datum.v)"}],"mark":{"type":"tick","color":"black","size":6,"thickness":1.2},"encoding":{"x":{"field":"k","type":"nominal","sort":null,"axis":null},"y":{"field":"hi","type":"quantitative","title":"% of Total cells","axis":{"values":[0,20,40,60,80,100]}}}}
  ]},
 {"width":124,"height":83,"transform":[{"filter":"datum.p=='CD45'"}],"resolve":{"axis":{"x":"independent"}},
  "layer":[
   {"transform":[{"filter":"isValid(datum.v)"}],"mark":{"type":"bar","stroke":"black","strokeWidth":1},"encoding":{"x":{"field":"k","type":"nominal","sort":null,"title":null,"scale":{"domain":["4|Vehicle","4|849","4|Anti–mPD-1","4|Combo","gap","8|Vehicle","8|849","8|Anti–mPD-1","8|Combo"],"paddingInner":0.25,"paddingOuter":0.1},"axis":{"labelAngle":-45,"labelAlign":"right","labelBaseline":"middle","labelFontSize":9,"labelExpr":"datum.value == 'gap' ? '' : substring(datum.value, 2)","tickOpacity":{"condition":{"test":"datum.value == 'gap'","value":0},"value":1}}},"y":{"field":"v","type":"quantitative","title":"% of Live cells","scale":{"domain":[0,100],"nice":false},"axis":{"values":[0,20,40,60,80,100]}},"color":{"field":"d","type":"nominal","scale":{"domain":["Day 4","Day 8"],"range":["#000000","#8d8d8d"]},"legend":null}}},
   {"transform":[{"filter":"isValid(datum.v)"}],"mark":{"type":"rule","color":"black","strokeWidth":1.2},"encoding":{"x":{"field":"k","type":"nominal","sort":null,"axis":{"orient":"top","title":"CD45⁺","labels":false,"ticks":false,"domain":false,"titleFontSize":12.5,"titlePadding":18}},"y":{"field":"v","type":"quantitative","title":"% of Live cells","axis":{"values":[0,20,40,60,80,100]}},"y2":{"field":"hi"}}},
   {"transform":[{"filter":"isValid(datum.v)"}],"mark":{"type":"tick","color":"black","size":6,"thickness":1.2},"encoding":{"x":{"field":"k","type":"nominal","sort":null,"axis":null},"y":{"field":"hi","type":"quantitative","title":"% of Live cells","axis":{"values":[0,20,40,60,80,100]}}}},
   {"transform":[{"filter":"isValid(datum.by)"},{"fold":["a","b"],"as":["side","k"]}],"mark":{"type":"line","color":"black","strokeWidth":1.2},"encoding":{"x":{"field":"k","type":"nominal","sort":null,"axis":null},"y":{"field":"by","type":"quantitative","title":"% of Live cells","axis":{"values":[0,20,40,60,80,100]}},"detail":{"field":"id","type":"nominal"}}},
   {"transform":[{"filter":"isValid(datum.by)"},{"fold":["a","b"],"as":["side","k"]}],"mark":{"type":"rule","color":"black","strokeWidth":1.2},"encoding":{"x":{"field":"k","type":"nominal","sort":null,"axis":null},"y":{"field":"by","type":"quantitative","title":"% of Live cells","axis":{"values":[0,20,40,60,80,100]}},"y2":{"field":"by0"}}}
  ]},
 {"width":124,"height":83,"transform":[{"filter":"datum.p=='CD3'"}],"resolve":{"axis":{"x":"independent"}},
  "layer":[
   {"transform":[{"filter":"isValid(datum.v)"}],"mark":{"type":"bar","stroke":"black","strokeWidth":1},"encoding":{"x":{"field":"k","type":"nominal","sort":null,"title":null,"scale":{"domain":["4|Vehicle","4|849","4|Anti–mPD-1","4|Combo","gap","8|Vehicle","8|849","8|Anti–mPD-1","8|Combo"],"paddingInner":0.25,"paddingOuter":0.1},"axis":{"labelAngle":-45,"labelAlign":"right","labelBaseline":"middle","labelFontSize":9,"labelExpr":"datum.value == 'gap' ? '' : substring(datum.value, 2)","tickOpacity":{"condition":{"test":"datum.value == 'gap'","value":0},"value":1}}},"y":{"field":"v","type":"quantitative","title":"% of CD45⁺cells","scale":{"domain":[0,50],"nice":false},"axis":{"values":[0,10,20,30,40,50]}},"color":{"field":"d","type":"nominal","scale":{"domain":["Day 4","Day 8"],"range":["#000000","#8d8d8d"]},"legend":null}}},
   {"transform":[{"filter":"isValid(datum.v)"}],"mark":{"type":"rule","color":"black","strokeWidth":1.2},"encoding":{"x":{"field":"k","type":"nominal","sort":null,"axis":{"orient":"top","title":"CD3⁺","labels":false,"ticks":false,"domain":false,"titleFontSize":12.5,"titlePadding":18}},"y":{"field":"v","type":"quantitative","title":"% of CD45⁺cells","axis":{"values":[0,10,20,30,40,50]}},"y2":{"field":"hi"}}},
   {"transform":[{"filter":"isValid(datum.v)"}],"mark":{"type":"tick","color":"black","size":6,"thickness":1.2},"encoding":{"x":{"field":"k","type":"nominal","sort":null,"axis":null},"y":{"field":"hi","type":"quantitative","title":"% of CD45⁺cells","axis":{"values":[0,10,20,30,40,50]}}}},
   {"transform":[{"filter":"isValid(datum.by)"},{"fold":["a","b"],"as":["side","k"]}],"mark":{"type":"line","color":"black","strokeWidth":1.2},"encoding":{"x":{"field":"k","type":"nominal","sort":null,"axis":null},"y":{"field":"by","type":"quantitative","title":"% of CD45⁺cells","axis":{"values":[0,10,20,30,40,50]}},"detail":{"field":"id","type":"nominal"}}},
   {"transform":[{"filter":"isValid(datum.by)"},{"fold":["a","b"],"as":["side","k"]}],"mark":{"type":"rule","color":"black","strokeWidth":1.2},"encoding":{"x":{"field":"k","type":"nominal","sort":null,"axis":null},"y":{"field":"by","type":"quantitative","title":"% of CD45⁺cells","axis":{"values":[0,10,20,30,40,50]}},"y2":{"field":"by0"}}}
  ]},
 {"width":124,"height":83,"transform":[{"filter":"datum.p=='CD4'"}],"resolve":{"axis":{"x":"independent"}},
  "layer":[
   {"transform":[{"filter":"isValid(datum.v)"}],"mark":{"type":"bar","stroke":"black","strokeWidth":1},"encoding":{"x":{"field":"k","type":"nominal","sort":null,"title":null,"scale":{"domain":["4|Vehicle","4|849","4|Anti–mPD-1","4|Combo","gap","8|Vehicle","8|849","8|Anti–mPD-1","8|Combo"],"paddingInner":0.25,"paddingOuter":0.1},"axis":{"labelAngle":-45,"labelAlign":"right","labelBaseline":"middle","labelFontSize":9,"labelExpr":"datum.value == 'gap' ? '' : substring(datum.value, 2)","tickOpacity":{"condition":{"test":"datum.value == 'gap'","value":0},"value":1}}},"y":{"field":"v","type":"quantitative","title":"% of CD45⁺cells","scale":{"domain":[0,25],"nice":false},"axis":{"values":[0,5,10,15,20,25]}},"color":{"field":"d","type":"nominal","scale":{"domain":["Day 4","Day 8"],"range":["#000000","#8d8d8d"]},"legend":null}}},
   {"transform":[{"filter":"isValid(datum.v)"}],"mark":{"type":"rule","color":"black","strokeWidth":1.2},"encoding":{"x":{"field":"k","type":"nominal","sort":null,"axis":{"orient":"top","title":"CD4⁺ T","labels":false,"ticks":false,"domain":false,"titleFontSize":12.5,"titlePadding":18}},"y":{"field":"v","type":"quantitative","title":"% of CD45⁺cells","axis":{"values":[0,5,10,15,20,25]}},"y2":{"field":"hi"}}},
   {"transform":[{"filter":"isValid(datum.v)"}],"mark":{"type":"tick","color":"black","size":6,"thickness":1.2},"encoding":{"x":{"field":"k","type":"nominal","sort":null,"axis":null},"y":{"field":"hi","type":"quantitative","title":"% of CD45⁺cells","axis":{"values":[0,5,10,15,20,25]}}}},
   {"transform":[{"filter":"isValid(datum.by)"},{"fold":["a","b"],"as":["side","k"]}],"mark":{"type":"line","color":"black","strokeWidth":1.2},"encoding":{"x":{"field":"k","type":"nominal","sort":null,"axis":null},"y":{"field":"by","type":"quantitative","title":"% of CD45⁺cells","axis":{"values":[0,5,10,15,20,25]}},"detail":{"field":"id","type":"nominal"}}},
   {"transform":[{"filter":"isValid(datum.by)"},{"fold":["a","b"],"as":["side","k"]}],"mark":{"type":"rule","color":"black","strokeWidth":1.2},"encoding":{"x":{"field":"k","type":"nominal","sort":null,"axis":null},"y":{"field":"by","type":"quantitative","title":"% of CD45⁺cells","axis":{"values":[0,5,10,15,20,25]}},"y2":{"field":"by0"}}}
  ]},
 {"width":124,"height":83,"transform":[{"filter":"datum.p=='CD4H'"}],"resolve":{"axis":{"x":"independent"}},
  "layer":[
   {"transform":[{"filter":"isValid(datum.v)"}],"mark":{"type":"bar","stroke":"black","strokeWidth":1},"encoding":{"x":{"field":"k","type":"nominal","sort":null,"title":null,"scale":{"domain":["4|Vehicle","4|849","4|Anti–mPD-1","4|Combo","gap","8|Vehicle","8|849","8|Anti–mPD-1","8|Combo"],"paddingInner":0.25,"paddingOuter":0.1},"axis":{"labelAngle":-45,"labelAlign":"right","labelBaseline":"middle","labelFontSize":9,"labelExpr":"datum.value == 'gap' ? '' : substring(datum.value, 2)","tickOpacity":{"condition":{"test":"datum.value == 'gap'","value":0},"value":1}}},"y":{"field":"v","type":"quantitative","title":"% of CD45⁺cells","scale":{"domain":[0,20],"nice":false},"axis":{"values":[0,5,10,15,20]}},"color":{"field":"d","type":"nominal","scale":{"domain":["Day 4","Day 8"],"range":["#000000","#8d8d8d"]},"legend":null}}},
   {"transform":[{"filter":"isValid(datum.v)"}],"mark":{"type":"rule","color":"black","strokeWidth":1.2},"encoding":{"x":{"field":"k","type":"nominal","sort":null,"axis":{"orient":"top","title":"CD4⁺ Helper T","labels":false,"ticks":false,"domain":false,"titleFontSize":12.5,"titlePadding":18}},"y":{"field":"v","type":"quantitative","title":"% of CD45⁺cells","axis":{"values":[0,5,10,15,20]}},"y2":{"field":"hi"}}},
   {"transform":[{"filter":"isValid(datum.v)"}],"mark":{"type":"tick","color":"black","size":6,"thickness":1.2},"encoding":{"x":{"field":"k","type":"nominal","sort":null,"axis":null},"y":{"field":"hi","type":"quantitative","title":"% of CD45⁺cells","axis":{"values":[0,5,10,15,20]}}}},
   {"transform":[{"filter":"isValid(datum.by)"},{"fold":["a","b"],"as":["side","k"]}],"mark":{"type":"line","color":"black","strokeWidth":1.2},"encoding":{"x":{"field":"k","type":"nominal","sort":null,"axis":null},"y":{"field":"by","type":"quantitative","title":"% of CD45⁺cells","axis":{"values":[0,5,10,15,20]}},"detail":{"field":"id","type":"nominal"}}},
   {"transform":[{"filter":"isValid(datum.by)"},{"fold":["a","b"],"as":["side","k"]}],"mark":{"type":"rule","color":"black","strokeWidth":1.2},"encoding":{"x":{"field":"k","type":"nominal","sort":null,"axis":null},"y":{"field":"by","type":"quantitative","title":"% of CD45⁺cells","axis":{"values":[0,5,10,15,20]}},"y2":{"field":"by0"}}}
  ]},
 {"width":124,"height":83,"transform":[{"filter":"datum.p=='CD8'"}],"resolve":{"axis":{"x":"independent"}},
  "layer":[
   {"transform":[{"filter":"isValid(datum.v)"}],"mark":{"type":"bar","stroke":"black","strokeWidth":1},"encoding":{"x":{"field":"k","type":"nominal","sort":null,"title":null,"scale":{"domain":["4|Vehicle","4|849","4|Anti–mPD-1","4|Combo","gap","8|Vehicle","8|849","8|Anti–mPD-1","8|Combo"],"paddingInner":0.25,"paddingOuter":0.1},"axis":{"labelAngle":-45,"labelAlign":"right","labelBaseline":"middle","labelFontSize":9,"labelExpr":"datum.value == 'gap' ? '' : substring(datum.value, 2)","tickOpacity":{"condition":{"test":"datum.value == 'gap'","value":0},"value":1}}},"y":{"field":"v","type":"quantitative","title":"% of CD45⁺cells","scale":{"domain":[0,25],"nice":false},"axis":{"values":[0,5,10,15,20,25]}},"color":{"field":"d","type":"nominal","scale":{"domain":["Day 4","Day 8"],"range":["#000000","#8d8d8d"]},"legend":null}}},
   {"transform":[{"filter":"isValid(datum.v)"}],"mark":{"type":"rule","color":"black","strokeWidth":1.2},"encoding":{"x":{"field":"k","type":"nominal","sort":null,"axis":{"orient":"top","title":"CD8⁺ T","labels":false,"ticks":false,"domain":false,"titleFontSize":12.5,"titlePadding":18}},"y":{"field":"v","type":"quantitative","title":"% of CD45⁺cells","axis":{"values":[0,5,10,15,20,25]}},"y2":{"field":"hi"}}},
   {"transform":[{"filter":"isValid(datum.v)"}],"mark":{"type":"tick","color":"black","size":6,"thickness":1.2},"encoding":{"x":{"field":"k","type":"nominal","sort":null,"axis":null},"y":{"field":"hi","type":"quantitative","title":"% of CD45⁺cells","axis":{"values":[0,5,10,15,20,25]}}}}
  ]},
 {"width":124,"height":83,"transform":[{"filter":"datum.p=='Treg'"}],"resolve":{"axis":{"x":"independent"}},
  "layer":[
   {"transform":[{"filter":"isValid(datum.v)"}],"mark":{"type":"bar","stroke":"black","strokeWidth":1},"encoding":{"x":{"field":"k","type":"nominal","sort":null,"title":null,"scale":{"domain":["4|Vehicle","4|849","4|Anti–mPD-1","4|Combo","gap","8|Vehicle","8|849","8|Anti–mPD-1","8|Combo"],"paddingInner":0.25,"paddingOuter":0.1},"axis":{"labelAngle":-45,"labelAlign":"right","labelBaseline":"middle","labelFontSize":9,"labelExpr":"datum.value == 'gap' ? '' : substring(datum.value, 2)","tickOpacity":{"condition":{"test":"datum.value == 'gap'","value":0},"value":1}}},"y":{"field":"v","type":"quantitative","title":"% of CD45⁺cells","scale":{"domain":[0,10],"nice":false},"axis":{"values":[0,2,4,6,8,10]}},"color":{"field":"d","type":"nominal","scale":{"domain":["Day 4","Day 8"],"range":["#000000","#8d8d8d"]},"legend":null}}},
   {"transform":[{"filter":"isValid(datum.v)"}],"mark":{"type":"rule","color":"black","strokeWidth":1.2},"encoding":{"x":{"field":"k","type":"nominal","sort":null,"axis":{"orient":"top","title":"Tregs","labels":false,"ticks":false,"domain":false,"titleFontSize":12.5,"titlePadding":18}},"y":{"field":"v","type":"quantitative","title":"% of CD45⁺cells","axis":{"values":[0,2,4,6,8,10]}},"y2":{"field":"hi"}}},
   {"transform":[{"filter":"isValid(datum.v)"}],"mark":{"type":"tick","color":"black","size":6,"thickness":1.2},"encoding":{"x":{"field":"k","type":"nominal","sort":null,"axis":null},"y":{"field":"hi","type":"quantitative","title":"% of CD45⁺cells","axis":{"values":[0,2,4,6,8,10]}}}},
   {"transform":[{"filter":"isValid(datum.by)"},{"fold":["a","b"],"as":["side","k"]}],"mark":{"type":"line","color":"black","strokeWidth":1.2},"encoding":{"x":{"field":"k","type":"nominal","sort":null,"axis":null},"y":{"field":"by","type":"quantitative","title":"% of CD45⁺cells","axis":{"values":[0,2,4,6,8,10]}},"detail":{"field":"id","type":"nominal"}}},
   {"transform":[{"filter":"isValid(datum.by)"},{"fold":["a","b"],"as":["side","k"]}],"mark":{"type":"rule","color":"black","strokeWidth":1.2},"encoding":{"x":{"field":"k","type":"nominal","sort":null,"axis":null},"y":{"field":"by","type":"quantitative","title":"% of CD45⁺cells","axis":{"values":[0,2,4,6,8,10]}},"y2":{"field":"by0"}}}
  ]},
 {"width":124,"height":83,"transform":[{"filter":"datum.p=='NKT'"}],"resolve":{"axis":{"x":"independent"}},
  "layer":[
   {"transform":[{"filter":"isValid(datum.v)"}],"mark":{"type":"bar","stroke":"black","strokeWidth":1},"encoding":{"x":{"field":"k","type":"nominal","sort":null,"title":null,"scale":{"domain":["4|Vehicle","4|849","4|Anti–mPD-1","4|Combo","gap","8|Vehicle","8|849","8|Anti–mPD-1","8|Combo"],"paddingInner":0.25,"paddingOuter":0.1},"axis":{"labelAngle":-45,"labelAlign":"right","labelBaseline":"middle","labelFontSize":9,"labelExpr":"datum.value == 'gap' ? '' : substring(datum.value, 2)","tickOpacity":{"condition":{"test":"datum.value == 'gap'","value":0},"value":1}}},"y":{"field":"v","type":"quantitative","title":"% of CD45⁺cells","scale":{"domain":[0,10],"nice":false},"axis":{"values":[0,2,4,6,8,10]}},"color":{"field":"d","type":"nominal","scale":{"domain":["Day 4","Day 8"],"range":["#000000","#8d8d8d"]},"legend":null}}},
   {"transform":[{"filter":"isValid(datum.v)"}],"mark":{"type":"rule","color":"black","strokeWidth":1.2},"encoding":{"x":{"field":"k","type":"nominal","sort":null,"axis":{"orient":"top","title":"NK T","labels":false,"ticks":false,"domain":false,"titleFontSize":12.5,"titlePadding":18}},"y":{"field":"v","type":"quantitative","title":"% of CD45⁺cells","axis":{"values":[0,2,4,6,8,10]}},"y2":{"field":"hi"}}},
   {"transform":[{"filter":"isValid(datum.v)"}],"mark":{"type":"tick","color":"black","size":6,"thickness":1.2},"encoding":{"x":{"field":"k","type":"nominal","sort":null,"axis":null},"y":{"field":"hi","type":"quantitative","title":"% of CD45⁺cells","axis":{"values":[0,2,4,6,8,10]}}}},
   {"transform":[{"filter":"isValid(datum.by)"},{"fold":["a","b"],"as":["side","k"]}],"mark":{"type":"line","color":"black","strokeWidth":1.2},"encoding":{"x":{"field":"k","type":"nominal","sort":null,"axis":null},"y":{"field":"by","type":"quantitative","title":"% of CD45⁺cells","axis":{"values":[0,2,4,6,8,10]}},"detail":{"field":"id","type":"nominal"}}},
   {"transform":[{"filter":"isValid(datum.by)"},{"fold":["a","b"],"as":["side","k"]}],"mark":{"type":"rule","color":"black","strokeWidth":1.2},"encoding":{"x":{"field":"k","type":"nominal","sort":null,"axis":null},"y":{"field":"by","type":"quantitative","title":"% of CD45⁺cells","axis":{"values":[0,2,4,6,8,10]}},"y2":{"field":"by0"}}}
  ]},
 {"width":124,"height":83,"transform":[{"filter":"datum.p=='CD19'"}],"resolve":{"axis":{"x":"independent"}},
  "layer":[
   {"transform":[{"filter":"isValid(datum.v)"}],"mark":{"type":"bar","stroke":"black","strokeWidth":1},"encoding":{"x":{"field":"k","type":"nominal","sort":null,"title":null,"scale":{"domain":["4|Vehicle","4|849","4|Anti–mPD-1","4|Combo","gap","8|Vehicle","8|849","8|Anti–mPD-1","8|Combo"],"paddingInner":0.25,"paddingOuter":0.1},"axis":{"labelAngle":-45,"labelAlign":"right","labelBaseline":"middle","labelFontSize":9,"labelExpr":"datum.value == 'gap' ? '' : substring(datum.value, 2)","tickOpacity":{"condition":{"test":"datum.value == 'gap'","value":0},"value":1}}},"y":{"field":"v","type":"quantitative","title":"% of CD45⁺cells","scale":{"domain":[0,10],"nice":false},"axis":{"values":[0,2,4,6,8,10]}},"color":{"field":"d","type":"nominal","scale":{"domain":["Day 4","Day 8"],"range":["#000000","#8d8d8d"]},"legend":null}}},
   {"transform":[{"filter":"isValid(datum.v)"}],"mark":{"type":"rule","color":"black","strokeWidth":1.2},"encoding":{"x":{"field":"k","type":"nominal","sort":null,"axis":{"orient":"top","title":"CD19⁺","labels":false,"ticks":false,"domain":false,"titleFontSize":12.5,"titlePadding":18}},"y":{"field":"v","type":"quantitative","title":"% of CD45⁺cells","axis":{"values":[0,2,4,6,8,10]}},"y2":{"field":"hi"}}},
   {"transform":[{"filter":"isValid(datum.v)"}],"mark":{"type":"tick","color":"black","size":6,"thickness":1.2},"encoding":{"x":{"field":"k","type":"nominal","sort":null,"axis":null},"y":{"field":"hi","type":"quantitative","title":"% of CD45⁺cells","axis":{"values":[0,2,4,6,8,10]}}}},
   {"transform":[{"filter":"isValid(datum.by)"},{"fold":["a","b"],"as":["side","k"]}],"mark":{"type":"line","color":"black","strokeWidth":1.2},"encoding":{"x":{"field":"k","type":"nominal","sort":null,"axis":null},"y":{"field":"by","type":"quantitative","title":"% of CD45⁺cells","axis":{"values":[0,2,4,6,8,10]}},"detail":{"field":"id","type":"nominal"}}},
   {"transform":[{"filter":"isValid(datum.by)"},{"fold":["a","b"],"as":["side","k"]}],"mark":{"type":"rule","color":"black","strokeWidth":1.2},"encoding":{"x":{"field":"k","type":"nominal","sort":null,"axis":null},"y":{"field":"by","type":"quantitative","title":"% of CD45⁺cells","axis":{"values":[0,2,4,6,8,10]}},"y2":{"field":"by0"}}}
  ]}
 ]}
],
"spacing":38,
"resolve":{"scale":{"color":"independent"}},
"config":{
 "font":"Liberation Sans",
 "view":{"stroke":null},
 "axis":{"domainColor":"#000","domainWidth":1.3,"tickColor":"#000","tickWidth":1.3,"tickSize":4,"labelColor":"#000","labelFontWeight":"bold","labelFontSize":10,"labelPadding":2,"titleColor":"#000","titleFontWeight":"bold","titleFontSize":9.5,"titlePadding":4,"grid":false},
 "title":{"fontSize":12.5,"fontWeight":"bold","color":"#000","anchor":"middle"}
}
}
